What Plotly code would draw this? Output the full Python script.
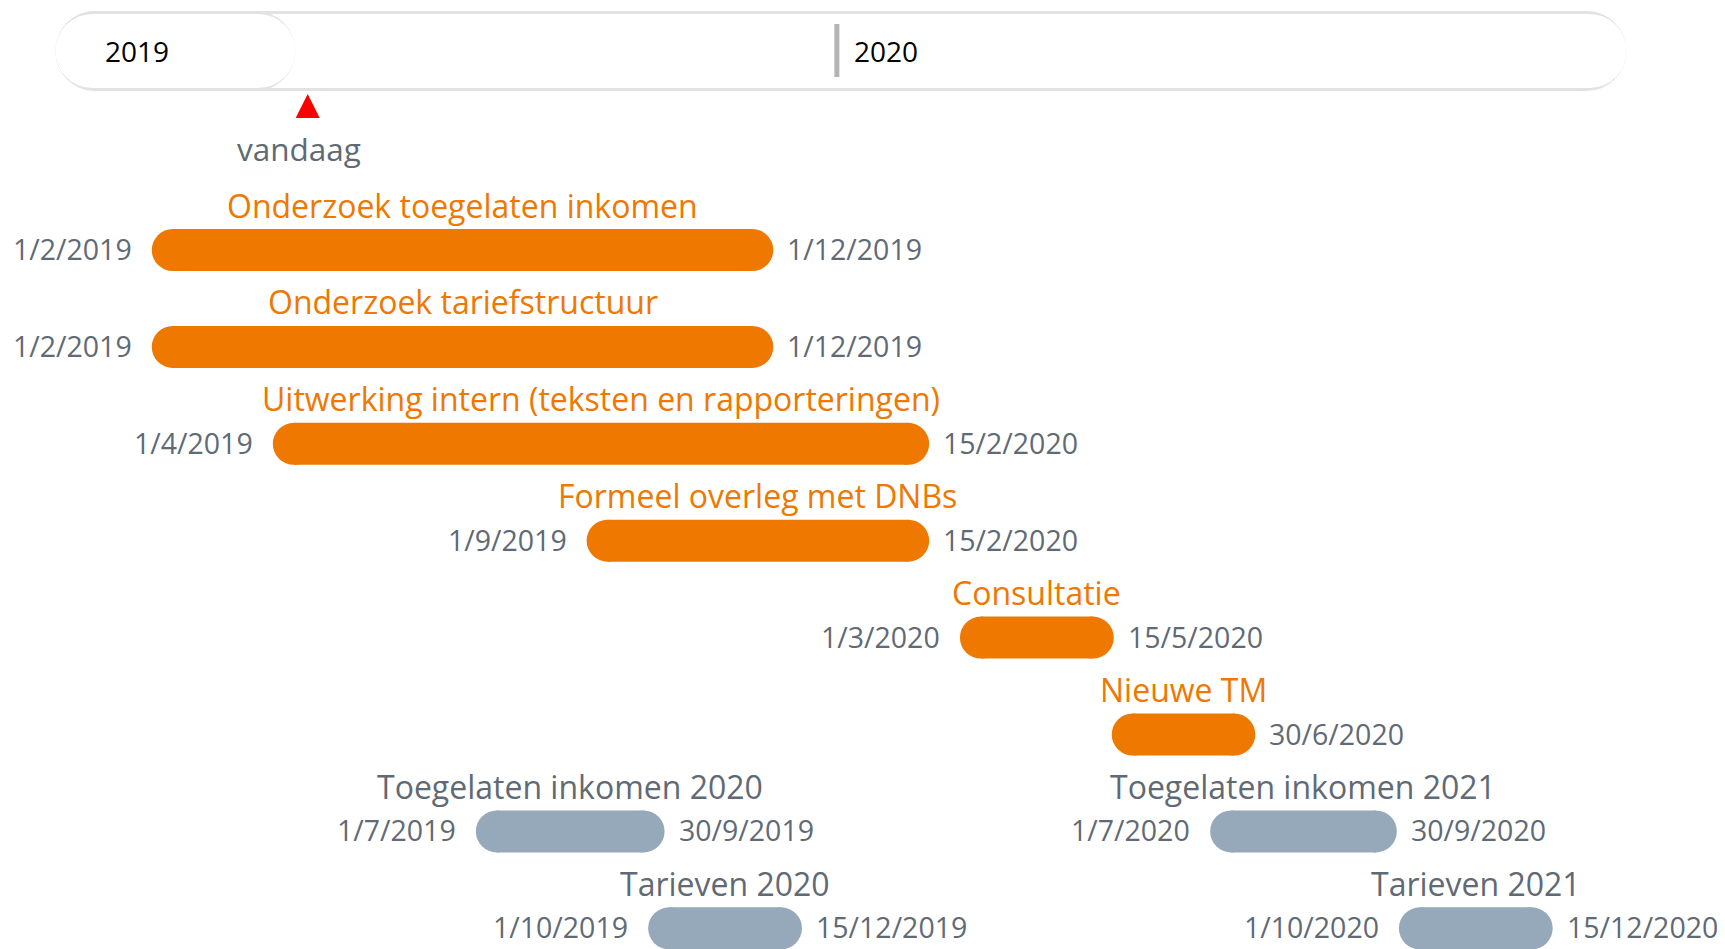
import pandas as pd
import plotly.graph_objects as go

# ---------------- data ----------------
tasks = [
    "Onderzoek toegelaten inkomen",
    "Onderzoek tariefstructuur",
    "Uitwerking intern (teksten en rapporteringen)",
    "Formeel overleg met DNBs",
    "Consultatie",
    "Nieuwe TM",
    "Toegelaten inkomen 2020",
    "Tarieven 2020",
    "Toegelaten inkomen 2021",
    "Tarieven 2021",
]
rows = [0, 1, 2, 3, 4, 5, 6, 7, 6, 7]
start_dates = ["2019-02-01", "2019-02-01", "2019-04-01", "2019-09-01", "2020-03-01",
               "2020-05-14", "2019-07-09", "2019-10-01", "2020-07-01", "2020-10-01"]
end_dates = ["2019-12-01", "2019-12-01", "2020-02-15", "2020-02-15", "2020-05-15",
             "2020-07-23", "2019-10-09", "2019-12-15", "2020-09-30", "2020-12-15"]
start_labels = ["1/2/2019", "1/2/2019", "1/4/2019", "1/9/2019", "1/3/2020",
                "", "1/7/2019", "1/10/2019", "1/7/2020", "1/10/2020"]
end_labels = ["1/12/2019", "1/12/2019", "15/2/2020", "15/2/2020", "15/5/2020",
              "30/6/2020", "30/9/2019", "15/12/2019", "30/9/2020", "15/12/2020"]
groups = ["project"] * 6 + ["jaarlijks"] * 4

timeline_start = "2018-12-16"
timeline_end = "2021-01-20"
progress_end = "2019-04-12"
today = "2019-04-18"
today_label = "vandaag"
year_starts = ["2019-01-01", "2020-01-01"]
year_labels = ["2019", "2020"]

# ---------------- layout constants ----------------
W, H = 1725, 949
PAGE_OFFSET = 8  # default body margin of the html page
X_RANGE_PAGE = ["2018-11-19", "2021-03-09"]  # dates at page px 0 and W
DAYS_PER_PX = (pd.Timestamp(X_RANGE_PAGE[1]) - pd.Timestamp(X_RANGE_PAGE[0])).days / W
X_RANGE = [pd.Timestamp(X_RANGE_PAGE[0]) + pd.Timedelta(days=PAGE_OFFSET * DAYS_PER_PX),
           pd.Timestamp(X_RANGE_PAGE[1]) + pd.Timedelta(days=PAGE_OFFSET * DAYS_PER_PX)]
Y_RANGE = [H + PAGE_OFFSET, PAGE_OFFSET]
ROW_TOP, ROW_STEP = 250, 96.9
BAR_H = 42
TL_Y, TL_H, TL_BORDER = 51, 80, 3
FONT = "Open Sans"
ORANGE = "#EE7800"
GRAYBAR = "#95A9BA"
TEXTGRAY = "#5F6A75"
LINEGRAY = "#E2E2E2"
colors = {"project": ORANGE, "jaarlijks": GRAYBAR}
title_colors = {"project": ORANGE, "jaarlijks": TEXTGRAY}


def shift(date, px):
    return pd.Timestamp(date) + pd.Timedelta(days=px * DAYS_PER_PX)


def row_y(r):
    return ROW_TOP + r * ROW_STEP


fig = go.Figure()


def capsule(x0, x1, y, h, color):
    r = h / 2
    fig.add_trace(go.Scatter(
        x=[shift(x0, r), shift(x1, -r)], y=[y, y], mode="lines+markers",
        line=dict(color=color, width=h),
        marker=dict(color=color, size=h, line=dict(width=0)),
        hoverinfo="skip", showlegend=False,
    ))


# timeline bar
capsule(timeline_start, timeline_end, TL_Y, TL_H, LINEGRAY)
capsule(timeline_start, timeline_end, TL_Y, TL_H - 2 * TL_BORDER, "white")
capsule(timeline_start, progress_end, TL_Y, TL_H, LINEGRAY)
capsule(timeline_start, progress_end, TL_Y, TL_H - 2 * TL_BORDER, "white")

# year dividers and labels
for i, (ys, yl) in enumerate(zip(year_starts, year_labels)):
    if i > 0:
        fig.add_trace(go.Scatter(
            x=[ys, ys], y=[TL_Y - 27, TL_Y + 26], mode="lines",
            line=dict(color="#B4B4B4", width=5), hoverinfo="skip", showlegend=False,
        ))
    fig.add_annotation(x=ys, y=TL_Y, text=yl, showarrow=False, xanchor="left",
                       yanchor="middle", xshift=15,
                       font=dict(family=FONT, size=28, color="black"))

# today marker
fig.add_trace(go.Scatter(
    x=[shift(today, -12), shift(today, 12), today, shift(today, -12)],
    y=[118, 118, 94, 118], mode="lines", fill="toself", fillcolor="#FF0000",
    line=dict(color="#FF0000", width=0), hoverinfo="skip", showlegend=False,
))
fig.add_annotation(x=today, y=148, text=today_label, showarrow=False,
                   xanchor="center", yanchor="middle", xshift=-9,
                   font=dict(family=FONT, size=31.5, color=TEXTGRAY))

# gantt bars
for t, r, s, e, sl, el, g in zip(tasks, rows, start_dates, end_dates,
                                  start_labels, end_labels, groups):
    y = row_y(r)
    capsule(s, e, y, BAR_H, colors[g])
    mid = pd.Timestamp(s) + (pd.Timestamp(e) - pd.Timestamp(s)) / 2
    fig.add_annotation(x=mid, y=y, text=t, showarrow=False, xanchor="center",
                       yanchor="middle", yshift=45,
                       font=dict(family=FONT, size=32, color=title_colors[g]))
    if sl:
        fig.add_annotation(x=s, y=y, text=sl, showarrow=False, xanchor="right",
                           yanchor="middle", xshift=-18, yshift=1,
                           font=dict(family=FONT, size=28.5, color=TEXTGRAY))
    if el:
        fig.add_annotation(x=e, y=y, text=el, showarrow=False, xanchor="left",
                           yanchor="middle", xshift=12, yshift=1,
                           font=dict(family=FONT, size=28.5, color=TEXTGRAY))

fig.update_layout(
    width=W, height=H, margin=dict(l=0, r=0, t=0, b=0),
    paper_bgcolor="white", plot_bgcolor="white", showlegend=False,
    xaxis=dict(type="date", range=X_RANGE, visible=False, fixedrange=True),
    yaxis=dict(range=Y_RANGE, visible=False, fixedrange=True),
)

fig.write_html("out.html")
